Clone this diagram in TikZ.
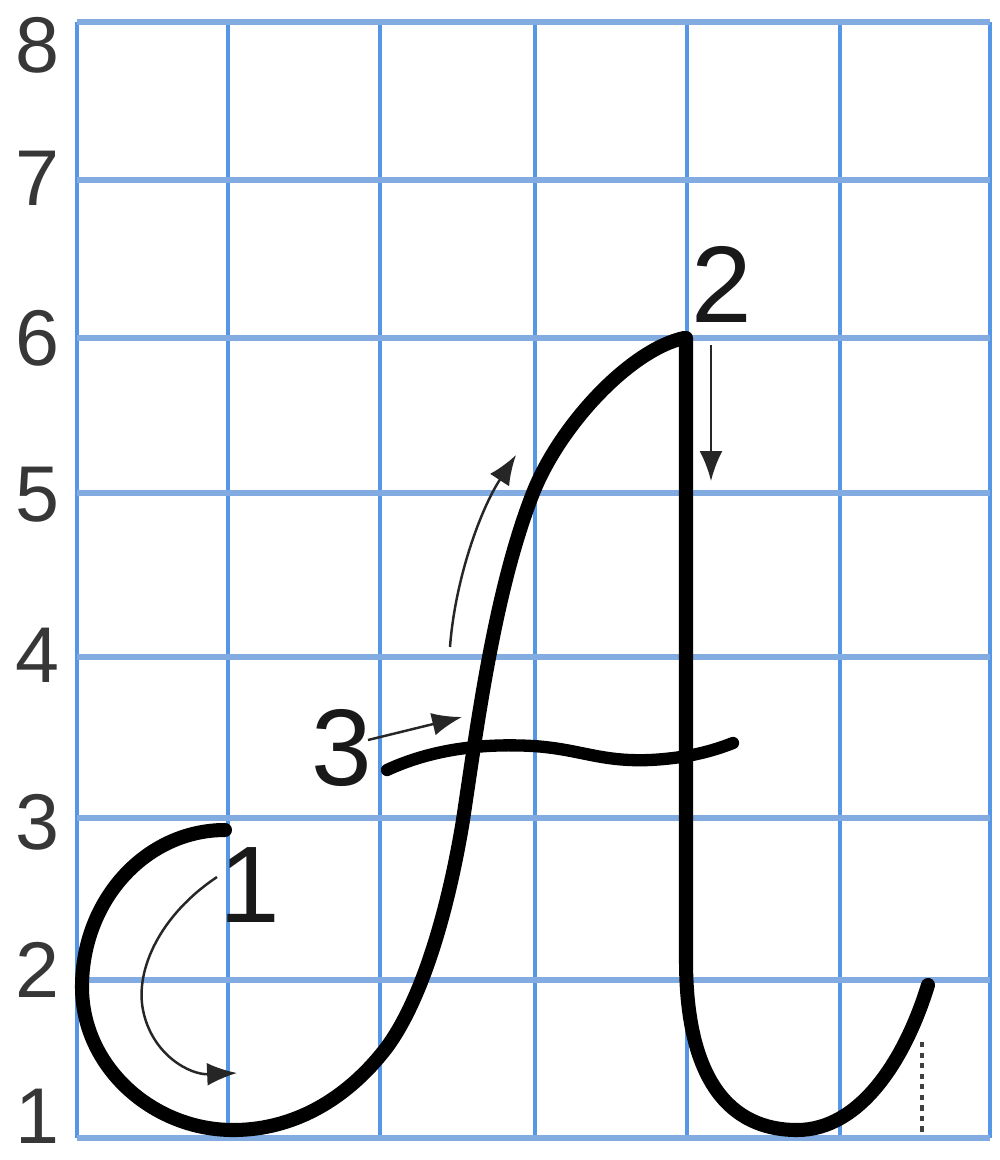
\documentclass[tikz,border=0pt]{standalone}
\usepackage{fontspec}
\setmainfont{Liberation Sans}
\usetikzlibrary{arrows.meta}
\definecolor{gridv}{RGB}{85,150,230}
\definecolor{gridh}{RGB}{130,172,225}
\definecolor{axisgray}{RGB}{55,55,55}
\begin{document}
\begin{tikzpicture}[x=0.02cm,y=-0.02cm,
 vline/.style={gridv,line width=2.2pt},
 hline/.style={gridh,line width=3.4pt},
 pen/.style={black,line width=8pt,line cap=round,line join=round},
 thinarrow/.style={black!85,line width=1.4pt,-{Latex[length=17pt,width=13pt]}},
 axislabel/.style={text=axisgray,font=\fontsize{45}{45}\selectfont,inner sep=0pt},
 steplabel/.style={text=black!90,font=\fontsize{62}{62}\selectfont,inner sep=0pt}]
\useasboundingbox (0,0) rectangle (1000,1160);
\fill[white] (0,0) rectangle (1000,1160);
% grid
\foreach \x in {77,228,380,535,687,840,990} \draw[vline] (\x,22) -- (\x,1138);
\foreach \y in {22,180,338,493,657,818,980,1138} \draw[hline] (77,\y) -- (990,\y);
% axis labels
\node[axislabel] (y8) at (37,45) {8};
\node[axislabel] (y7) at (37,178) {7};
\node[axislabel] (y6) at (37,338) {6};
\node[axislabel] (y5) at (37,495) {5};
\node[axislabel] (y4) at (37,655) {4};
\node[axislabel] (y3) at (37,822) {3};
\node[axislabel] (y2) at (37,970) {2};
\node[axislabel] (y1) at (37,1116) {1};
% stroke 1: hook and left leg
\draw[pen] (225,830) .. controls (146,830) and (82,900) .. (82,987)
  .. controls (82,1067) and (153,1130) .. (233,1130)
  .. controls (300,1130) and (352,1093) .. (387,1047)
  .. controls (425,995) and (450,900) .. (463,820)
  .. controls (478,720) and (495,590) .. (533,493)
  .. controls (560,425) and (630,350) .. (684,338);
% stroke 2: right leg
\draw[pen] (686,338) -- (686,960)
  .. controls (686,1080) and (730,1130) .. (797,1130)
  .. controls (860,1130) and (905,1060) .. (928,985);
% stroke 3: crossbar
\draw[pen,line width=7pt] (387,770) .. controls (430,750) and (480,743) .. (533,746)
  .. controls (580,749) and (600,762) .. (650,760)
  .. controls (690,758) and (715,750) .. (733,743);
% dotted guide
\draw[black!75,line width=2pt,dash pattern=on 3pt off 3pt] (922,1042) -- (922,1136);
% direction arrows
\coordinate (a1s) at (217,877);
\coordinate (a1e) at (237,1073);
\draw[thinarrow] (a1s) .. controls (160,915) and (135,970) .. (143,1010)
  .. controls (152,1055) and (190,1075) .. (a1e);
\coordinate (u1) at (450,647);
\coordinate (u2) at (516,455);
\draw[thinarrow] (u1) .. controls (455,580) and (480,510) .. (u2);
\coordinate (d1) at (711,345);
\coordinate (d2) at (711,481);
\draw[thinarrow] (d1) -- (d2);
\coordinate (t1) at (368,740);
\coordinate (t2) at (462,717);
\draw[thinarrow] (t1) -- (t2);
% step labels
\node[steplabel] (n1) at (250,885) {1};
\node[steplabel] (n2) at (722,284) {2};
\node[steplabel] (n3) at (342,748) {3};
\end{tikzpicture}
\end{document}
